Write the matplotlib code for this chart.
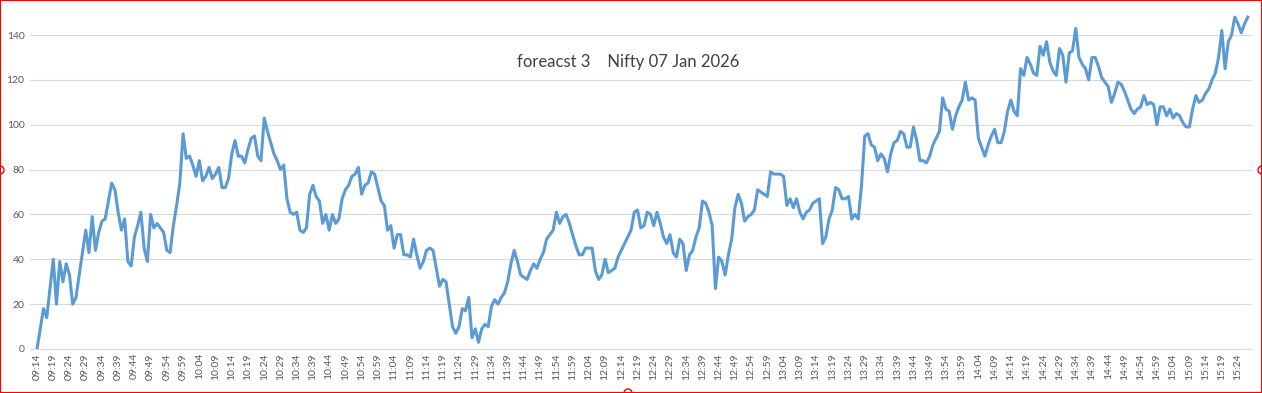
import matplotlib
matplotlib.use("Agg")
import matplotlib.pyplot as plt
from matplotlib.patches import Rectangle, Circle
import pandas as pd

# minute-wise values, 09:14 .. 15:27
values = [
    0, 9, 18, 14, 27, 40, 20, 39, 30, 38,
    33, 20, 23, 33, 43, 53, 43, 59, 44, 52,
    57, 58, 66, 74, 71, 61, 53, 58, 39, 37,
    50, 55, 61, 45, 39, 60, 54, 56, 54, 52,
    44, 43, 55, 64, 74, 96, 85, 86, 82, 77,
    84, 75, 77, 81, 76, 78, 81, 72, 72, 76,
    87, 93, 86, 86, 83, 89, 94, 95, 86, 84,
    103, 97, 92, 87, 84, 80, 82, 67, 61, 60,
    61, 53, 52, 54, 69, 73, 68, 66, 56, 60,
    53, 60, 56, 58, 67, 71, 73, 77, 78, 81,
    69, 73, 74, 79, 78, 72, 66, 64, 53, 55,
    45, 51, 51, 42, 42, 41, 49, 42, 36, 39,
    44, 45, 44, 36, 28, 31, 30, 20, 10, 7,
    10, 18, 17, 23, 5, 9, 3, 9, 11, 10,
    19, 22, 20, 23, 25, 30, 38, 44, 39, 33,
    32, 31, 35, 38, 36, 40, 43, 49, 51, 53,
    61, 56, 59, 60, 56, 51, 46, 42, 42, 45,
    45, 45, 35, 31, 33, 40, 34, 35, 36, 41,
    44, 47, 50, 53, 61, 62, 54, 55, 61, 60,
    55, 61, 56, 50, 47, 51, 43, 41, 49, 47,
    35, 42, 44, 50, 54, 66, 65, 61, 55, 27,
    41, 39, 33, 42, 49, 63, 69, 65, 57, 59,
    60, 62, 71, 70, 69, 68, 79, 78, 78, 78,
    77, 64, 67, 63, 67, 61, 58, 61, 62, 65,
    66, 67, 47, 50, 58, 62, 72, 71, 67, 67,
    68, 58, 60, 58, 73, 95, 96, 91, 90, 84,
    87, 85, 79, 87, 92, 93, 97, 96, 90, 90,
    99, 93, 84, 84, 83, 86, 91, 94, 97, 112,
    107, 106, 98, 104, 108, 111, 119, 111, 112, 111,
    94, 90, 86, 91, 95, 98, 92, 92, 97, 106,
    111, 106, 104, 125, 122, 130, 127, 123, 122, 135,
    131, 137, 128, 124, 122, 134, 131, 119, 132, 133,
    143, 130, 127, 125, 120, 130, 130, 126, 121, 119,
    117, 110, 114, 119, 118, 115, 111, 107, 105, 107,
    108, 113, 109, 110, 109, 100, 108, 108, 104, 107,
    103, 105, 104, 101, 99, 99, 107, 113, 110, 111,
    114, 116, 120, 123, 130, 142, 125, 137, 140, 148,
    145, 141, 145, 148,
]
times = pd.date_range("2026-01-07 09:14", periods=len(values), freq="min").strftime("%H:%M").tolist()
yticks = [0, 20, 40, 60, 80, 100, 120, 140]
title = "foreacst 3    Nifty 07 Jan 2026"

plt.rcParams['font.family'] = ['Lato', 'DejaVu Sans']

fig = plt.figure(figsize=(12.62, 3.93), dpi=100)
ax = fig.add_axes([30 / 1262, 44 / 393, 1222 / 1262, 344 / 393])

x = list(range(len(values)))
ax.plot(x, values, color='#5B9BD5', lw=2.2, solid_joinstyle='round')

ax.set_xlim(-2.16, 374.3)
ax.set_ylim(0, 153.4)
ax.set_yticks(yticks)
ax.set_xticks(x[::5])
ax.set_xticklabels(times[::5], rotation=90, fontsize=7.5, color='#595959')
ax.tick_params(axis='y', length=0, pad=4, labelsize=7.5, labelcolor='#595959')
ax.tick_params(axis='x', length=0, pad=3)
ax.grid(axis='y', color='#D9D9D9', lw=0.8)
ax.set_axisbelow(True)
for s in ['top', 'right', 'left']:
    ax.spines[s].set_visible(False)
ax.spines['bottom'].set_color('#D9D9D9')

fig.text(628 / 1262, 1 - 62 / 393, title, ha='center', va='center', fontsize=12, color='#404040')

# selection frame and handles
fig.patches.append(Rectangle((0, 0), 1, 1, transform=fig.transFigure, fill=False,
                             edgecolor='red', lw=1.5))
for hx, hy in [(0, 223), (1262, 223), (628, 0)]:
    fig.patches.append(Circle((hx, hy), 4, transform=None, fill=False, edgecolor='red', lw=1))

fig.savefig("out.png", dpi=100)
